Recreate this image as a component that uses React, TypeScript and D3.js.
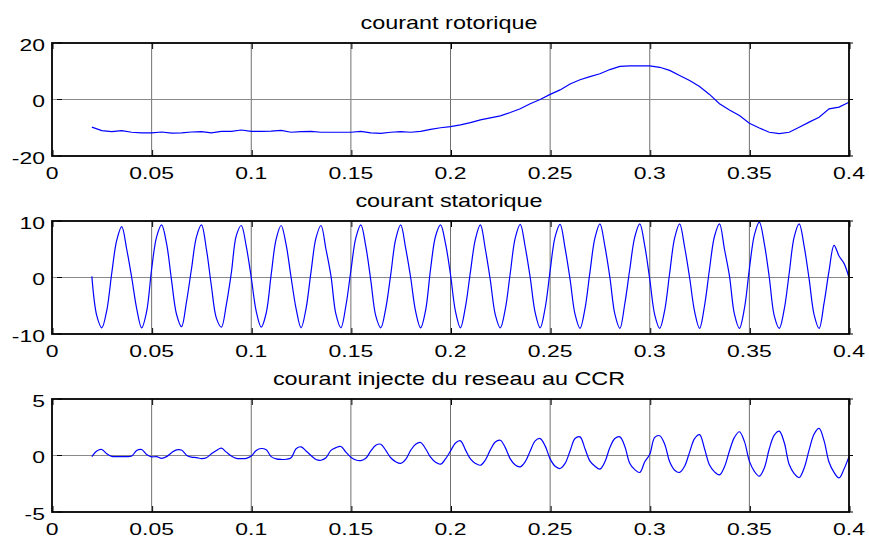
import React from 'react';
import * as d3 from 'd3';

// sampling of the simulation (time in s)
const T0 = 0.02;
const DT_ROTOR = 0.005;
const DT = 0.0025;

// courant rotorique, every 5 ms from 0.02 s
const rotor = [
  -9.8, -11.0, -11.4, -11.0, -11.6, -11.8, -11.8, -11.5, -11.9, -11.8,
  -11.5, -11.4, -11.8, -11.3, -11.3, -10.8, -11.3, -11.3, -11.2, -10.9,
  -11.6, -11.4, -11.3, -11.6, -11.6, -11.6, -11.6, -11.3, -11.8, -12.0,
  -11.6, -11.4, -11.6, -11.3, -10.6, -10.0, -9.6, -9.0, -8.2, -7.2,
  -6.5, -5.8, -4.6, -3.3, -1.5, 0.0, 1.8, 3.4, 5.5, 7.0,
  8.1, 9.1, 10.6, 11.7, 11.9, 11.9, 11.9, 11.4, 10.3, 8.5,
  6.7, 4.6, 1.8, -1.5, -3.7, -5.7, -8.4, -10.1, -11.6, -12.1,
  -11.6, -9.8, -8.0, -6.3, -3.3, -2.7, -1.0,
];

// courant statorique, every 2.5 ms from 0.02 s
const stator = [
  0.2, -6.8, -8.9, -5.8, 0.8, 6.6, 9.0, 5.0,
  0.0, -5.5, -8.9, -6.0, 1.5, 7.2, 9.3, 6.0,
  -0.5, -6.5, -8.7, -4.3, 1.5, 7.2, 9.3, 5.0,
  -1.5, -7.2, -8.8, -4.8, 0.8, 7.4, 9.2, 5.5,
  0.0, -6.0, -8.8, -6.3, 0.5, 6.8, 9.2, 5.8,
  0.0, -5.5, -8.9, -5.5, 1.0, 7.0, 9.2, 5.0,
  0.3, -6.5, -8.9, -5.0, 1.2, 7.0, 9.3, 5.5,
  -0.5, -6.8, -8.9, -5.5, 0.5, 6.8, 9.3, 5.2,
  0.0, -6.0, -8.9, -5.8, 1.5, 7.3, 9.3, 6.0,
  0.5, -6.0, -8.9, -5.2, 1.0, 6.8, 9.3, 5.0,
  -0.5, -6.6, -8.9, -5.6, 0.8, 7.0, 9.4, 5.4,
  0.0, -6.2, -8.9, -5.4, 1.2, 7.2, 9.4, 5.2,
  -0.3, -6.5, -9.0, -5.5, 1.0, 7.0, 9.5, 5.5,
  0.0, -6.5, -9.0, -4.6, 1.5, 7.2, 9.5, 5.6,
  -0.3, -6.6, -9.0, -5.8, 0.8, 7.0, 9.5, 5.4,
  0.0, -6.0, -9.0, -5.0, 1.5, 7.3, 9.5, 5.0,
  0.3, -6.5, -9.0, -5.5, 1.5, 7.5, 9.8, 6.0,
  0.0, -6.8, -9.0, -5.6, 0.8, 7.2, 9.5, 5.5,
  -0.3, -6.6, -9.0, -4.5, 1.2, 5.7, 3.8, 2.5,
  0.0,
];

// courant injecte du reseau au CCR, every 2.5 ms from 0.02 s
const injected = [
  -0.1, 0.4, 0.53, 0.15, -0.08, -0.1, -0.1, -0.1,
  -0.05, 0.45, 0.53, 0.08, -0.12, -0.1, -0.25, -0.1,
  0.25, 0.5, 0.48, 0.03, -0.15, -0.18, -0.27, -0.2,
  0.15, 0.45, 0.65, 0.3, -0.05, -0.25, -0.27, -0.25,
  -0.05, 0.45, 0.62, 0.5, -0.1, -0.3, -0.35, -0.33,
  -0.2, 0.6, 0.77, 0.4, 0.0, -0.35, -0.42, -0.2,
  0.45, 0.7, 0.8, 0.3, -0.15, -0.4, -0.45, -0.25,
  0.4, 0.9, 1.0, 0.45, -0.2, -0.55, -0.7, -0.35,
  0.45, 1.0, 1.15, 0.6, -0.15, -0.6, -0.77, -0.3,
  0.4, 1.1, 1.3, 0.5, -0.3, -0.7, -0.86, -0.4,
  0.5, 1.2, 1.35, 0.7, -0.3, -0.85, -1.0, -0.55,
  0.4, 1.3, 1.5, 0.85, -0.3, -0.95, -1.15, -0.7,
  0.4, 1.5, 1.65, 0.6, -0.5, -0.95, -1.2, -0.56,
  0.7, 1.5, 1.65, 0.8, -0.7, -1.25, -1.5, -0.56,
  0.1, 1.6, 1.75, 1.0, -0.56, -1.3, -1.5, -0.95,
  0.3, 1.5, 1.85, 0.6, -0.85, -1.45, -1.72, -1.0,
  0.4, 1.6, 2.1, 1.25, -0.5, -1.4, -1.83, -1.1,
  0.6, 1.8, 2.15, 1.15, -0.8, -1.6, -1.95, -1.1,
  0.5, 1.9, 2.4, 1.3, -0.6, -1.5, -1.98, -1.2,
  -0.1,
];

const xTicks = [0, 0.05, 0.1, 0.15, 0.2, 0.25, 0.3, 0.35, 0.4];
const xTickLabels = ['0', '0.05', '0.1', '0.15', '0.2', '0.25', '0.3', '0.35', '0.4'];

const titles = ['courant rotorique', 'courant statorique', 'courant injecte du reseau au CCR'];
const yLimits = [20, 10, 5];
const yTickLabels = [['-20', '0', '20'], ['-10', '0', '10'], ['-5', '0', '5']];

const W = 869;
const H = 539;
const LEFT = 52;
const RIGHT = 849;
const TOPS = [43, 221, 399];
const PH = 113;
const FONT = '"Liberation Sans", Arial, sans-serif';

function Panel({ idx, values, dt, smooth }) {
  const top = TOPS[idx];
  const bottom = top + PH;
  const lim = yLimits[idx];

  const x = d3.scaleLinear().domain([0, 0.4]).range([LEFT, RIGHT]);
  const y = d3.scaleLinear().domain([-lim, lim]).range([bottom, top]);

  const line = d3.line()
    .x((d, i) => x(T0 + i * dt))
    .y(d => y(d))
    .curve(smooth ? d3.curveCatmullRom : d3.curveLinear);

  const yTicks = [-lim, 0, lim];

  return (
    <g>
      {/* grille */}
      {xTicks.slice(1, -1).map(t => (
        <line key={'g' + t} x1={x(t)} x2={x(t)} y1={top} y2={bottom} stroke="#707070" strokeWidth={1} />
      ))}
      <line x1={LEFT} x2={RIGHT} y1={y(0)} y2={y(0)} stroke="#8a8a8a" strokeWidth={1} />

      {/* courbe */}
      <path d={line(values)} fill="none" stroke="#0000ff" strokeWidth={1.2} />

      {/* graduations */}
      {xTicks.map(t => (
        <g key={'t' + t}>
          <line x1={x(t) + 1} x2={x(t) + 1} y1={top} y2={top + 6} stroke="#000" />
          <line x1={x(t) + 1} x2={x(t) + 1} y1={bottom} y2={bottom - 6} stroke="#000" />
        </g>
      ))}
      {yTicks.map(v => (
        <g key={'yt' + v}>
          <line x1={LEFT + 5} x2={LEFT + 10} y1={y(v)} y2={y(v)} stroke="#000" />
          <line x1={RIGHT} x2={RIGHT + 4} y1={y(v)} y2={y(v)} stroke="#000" />
        </g>
      ))}

      {/* cadre */}
      <rect x={LEFT} y={top} width={RIGHT - LEFT} height={PH} fill="none" stroke="#000" strokeWidth={1.8} />

      {/* etiquettes */}
      {xTicks.map((t, i) => (
        <text key={'xl' + t} transform={`translate(${x(t)},${bottom + 22.5}) scale(1.35,1)`}
          textAnchor="middle" fontSize={17} fontFamily={FONT} fill="#000">{xTickLabels[i]}</text>
      ))}
      {yTicks.map((v, i) => (
        <text key={'yl' + v} transform={`translate(45,${y(v) + 7.5}) scale(1.35,1)`}
          textAnchor="end" fontSize={17} fontFamily={FONT} fill="#000">{yTickLabels[idx][i]}</text>
      ))}
      <text transform={`translate(449,${top - 14}) scale(1.3,1)`} textAnchor="middle"
        fontSize={18} fontFamily={FONT} fill="#000">{titles[idx]}</text>
    </g>
  );
}

export default function App() {
  return (
    <svg width={W} height={H} style={{ position: 'absolute', left: 0, top: 0, background: '#fff' }}>
      <rect width={W} height={H} fill="#fff" />
      <Panel idx={0} values={rotor} dt={DT_ROTOR} smooth={false} />
      <Panel idx={1} values={stator} dt={DT} smooth={true} />
      <Panel idx={2} values={injected} dt={DT} smooth={true} />
    </svg>
  );
}
